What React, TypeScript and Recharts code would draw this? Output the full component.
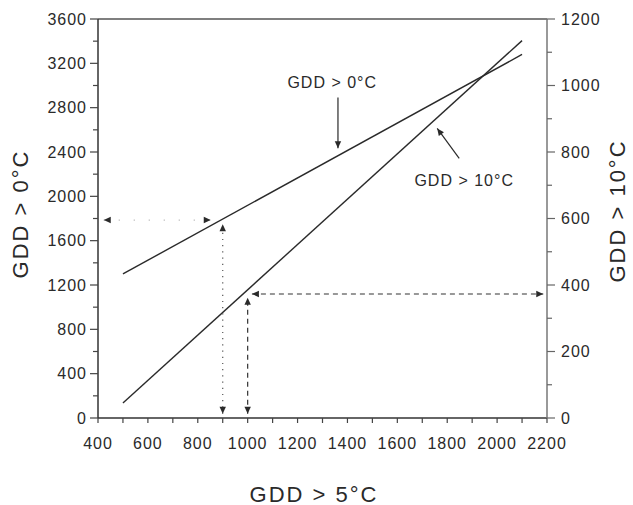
import { LineChart, Line, XAxis, YAxis, ReferenceLine, ReferenceDot, Label } from 'recharts';

// GDD > 5°C on the x axis, the two regressions
const gddAbove5 = [500, 2100];
const gddAbove0 = [1300, 3280]; // left axis
const gddAbove10 = [45, 1135]; // right axis

const xTicks = [400, 500, 600, 700, 800, 900, 1000, 1100, 1200, 1300, 1400, 1500, 1600, 1700, 1800, 1900, 2000, 2100, 2200];
const leftTicks = [0, 200, 400, 600, 800, 1000, 1200, 1400, 1600, 1800, 2000, 2200, 2400, 2600, 2800, 3000, 3200, 3400, 3600];
const rightTicks = [0, 100, 200, 300, 400, 500, 600, 700, 800, 900, 1000, 1100, 1200];

// worked example guides (data units)
const dottedGuides = [
  { axis: 'left', x1: 900, y1: 39, x2: 900, y2: 1747 },
  { axis: 'left', x1: 423, y1: 1786, x2: 852, y2: 1786 },
];
const dashedGuides = [
  { axis: 'right', x1: 1000, y1: 13, x2: 1000, y2: 362 },
  { axis: 'right', x1: 1017, y1: 373, x2: 2185, y2: 373 },
];
// callout arrows and their captions (right axis units)
const pointers = [
  { x1: 1362, y1: 964, x2: 1362, y2: 811 },
  { x1: 1848, y1: 781, x2: 1760, y2: 871 },
];
const captions = [
  { text: 'GDD > 0°C', x: 1339, y: 1009 },
  { text: 'GDD > 10°C', x: 1868, y: 715 },
];

const data = gddAbove5.map((x, i) => ({ x, gdd0: gddAbove0[i], gdd10: gddAbove10[i] }));

const FONT = '"Liberation Sans", Arial, sans-serif';
const INK = '#2a2a2a';

function head(tx: number, ty: number, fx: number, fy: number, len = 7, half = 3.2) {
  const dx = tx - fx, dy = ty - fy;
  const d = Math.hypot(dx, dy) || 1;
  const ux = dx / d, uy = dy / d;
  const bx = tx - ux * len, by = ty - uy * len;
  return `${tx},${ty} ${bx - uy * half},${by + ux * half} ${bx + uy * half},${by - ux * half}`;
}

const guideShape = (dash: string, color: string, both: boolean) => (p: any) => {
  const { x1, y1, x2, y2 } = p;
  return (
    <g>
      <line x1={x1} y1={y1} x2={x2} y2={y2} stroke={color} strokeWidth={1.2} strokeDasharray={dash} />
      {both && <polygon points={head(x1, y1, x2, y2)} fill={INK} />}
      <polygon points={head(x2, y2, x1, y1)} fill={INK} />
    </g>
  );
};

function LeftTick(props: any) {
  const { x, y, payload } = props;
  const major = payload.value % 400 === 0;
  return (
    <g>
      <line x1={x} y1={y} x2={x - (major ? 8 : 5)} y2={y} stroke="#444" strokeWidth={1.2} />
      {major && (
        <text x={x - 11} y={y} dy={5.5} textAnchor="end" fontSize={16} letterSpacing={1} fill={INK} fontFamily={FONT}>
          {payload.value}
        </text>
      )}
    </g>
  );
}

function RightTick(props: any) {
  const { x, y, payload } = props;
  const major = payload.value % 200 === 0;
  return (
    <g>
      <line x1={x} y1={y} x2={x + (major ? 8 : 5)} y2={y} stroke="#666" strokeWidth={1.2} />
      {major && (
        <text x={x + 14} y={y} dy={5.5} textAnchor="start" fontSize={16} letterSpacing={1} fill={INK} fontFamily={FONT}>
          {payload.value}
        </text>
      )}
    </g>
  );
}

function BottomTick(props: any) {
  const { x, y, payload } = props;
  const major = payload.value % 200 === 0;
  return (
    <g>
      <line x1={x} y1={y} x2={x} y2={y + 5} stroke="#444" strokeWidth={1.2} />
      {major && (
        <text x={x} y={y + 31} textAnchor="middle" fontSize={16} letterSpacing={1} fill={INK} fontFamily={FONT}>
          {payload.value}
        </text>
      )}
    </g>
  );
}

const title = (text: string, cx: number, cy: number, angle: number) => () => (
  <text
    x={cx}
    y={cy}
    textAnchor="middle"
    dominantBaseline="central"
    fontSize={22}
    letterSpacing={2}
    fill={INK}
    fontFamily={FONT}
    transform={angle ? `rotate(${angle}, ${cx}, ${cy})` : undefined}
  >
    {text}
  </text>
);

export default function App() {
  return (
    <div style={{ position: 'absolute', left: 0, top: 0, background: '#fff' }}>
      <LineChart width={633} height={505} data={data} margin={{ top: 19, right: 26, bottom: 57, left: 38 }}>
        <XAxis
          dataKey="x"
          type="number"
          domain={[400, 2200]}
          ticks={xTicks}
          interval={0}
          tickSize={0}
          tickMargin={0}
          tickLine={false}
          tick={BottomTick}
          height={30}
          axisLine={{ stroke: '#333', strokeWidth: 1.5 }}
        >
          <Label content={title('GDD > 5°C', 314, 494, 0)} />
        </XAxis>
        <YAxis
          yAxisId="left"
          type="number"
          domain={[0, 3600]}
          ticks={leftTicks}
          interval={0}
          tickSize={0}
          tickMargin={0}
          tickLine={false}
          tick={LeftTick}
          width={60}
          axisLine={{ stroke: '#333', strokeWidth: 1.5 }}
        >
          <Label content={title('GDD > 0°C', 20, 214, -90)} />
        </YAxis>
        <YAxis
          yAxisId="right"
          orientation="right"
          type="number"
          domain={[0, 1200]}
          ticks={rightTicks}
          interval={0}
          tickSize={0}
          tickMargin={0}
          tickLine={false}
          tick={RightTick}
          width={60}
          axisLine={{ stroke: '#777', strokeWidth: 1.5 }}
        >
          <Label content={title('GDD > 10°C', 617, 211, -90)} />
        </YAxis>

        <ReferenceLine yAxisId="left" y={3600} stroke="#555" strokeWidth={1.5} />

        <Line yAxisId="left" dataKey="gdd0" stroke={INK} strokeWidth={1.4} dot={false} isAnimationActive={false} />
        <Line yAxisId="right" dataKey="gdd10" stroke={INK} strokeWidth={1.4} dot={false} isAnimationActive={false} />

        {dottedGuides.map((g, i) => (
          <ReferenceLine
            key={`dot${i}`}
            yAxisId={g.axis}
            ifOverflow="visible"
            segment={[{ x: g.x1, y: g.y1 }, { x: g.x2, y: g.y2 }]}
            shape={guideShape(i === 0 ? '1.2 5' : '1 14', i === 0 ? '#555' : '#aaa', true)}
          />
        ))}
        {dashedGuides.map((g, i) => (
          <ReferenceLine
            key={`dash${i}`}
            yAxisId={g.axis}
            ifOverflow="visible"
            segment={[{ x: g.x1, y: g.y1 }, { x: g.x2, y: g.y2 }]}
            shape={guideShape('5 4', '#333', true)}
          />
        ))}
        {pointers.map((g, i) => (
          <ReferenceLine
            key={`ptr${i}`}
            yAxisId="right"
            ifOverflow="visible"
            segment={[{ x: g.x1, y: g.y1 }, { x: g.x2, y: g.y2 }]}
            shape={guideShape('', INK, false)}
          />
        ))}
        {captions.map((c, i) => (
          <ReferenceDot
            key={`cap${i}`}
            yAxisId="right"
            x={c.x}
            y={c.y}
            ifOverflow="visible"
            shape={(p: any) => (
              <text x={p.cx} y={p.cy} textAnchor="middle" dominantBaseline="central" fontSize={16} letterSpacing={1} fill={INK} fontFamily={FONT}>
                {c.text}
              </text>
            )}
          />
        ))}
      </LineChart>
    </div>
  );
}
